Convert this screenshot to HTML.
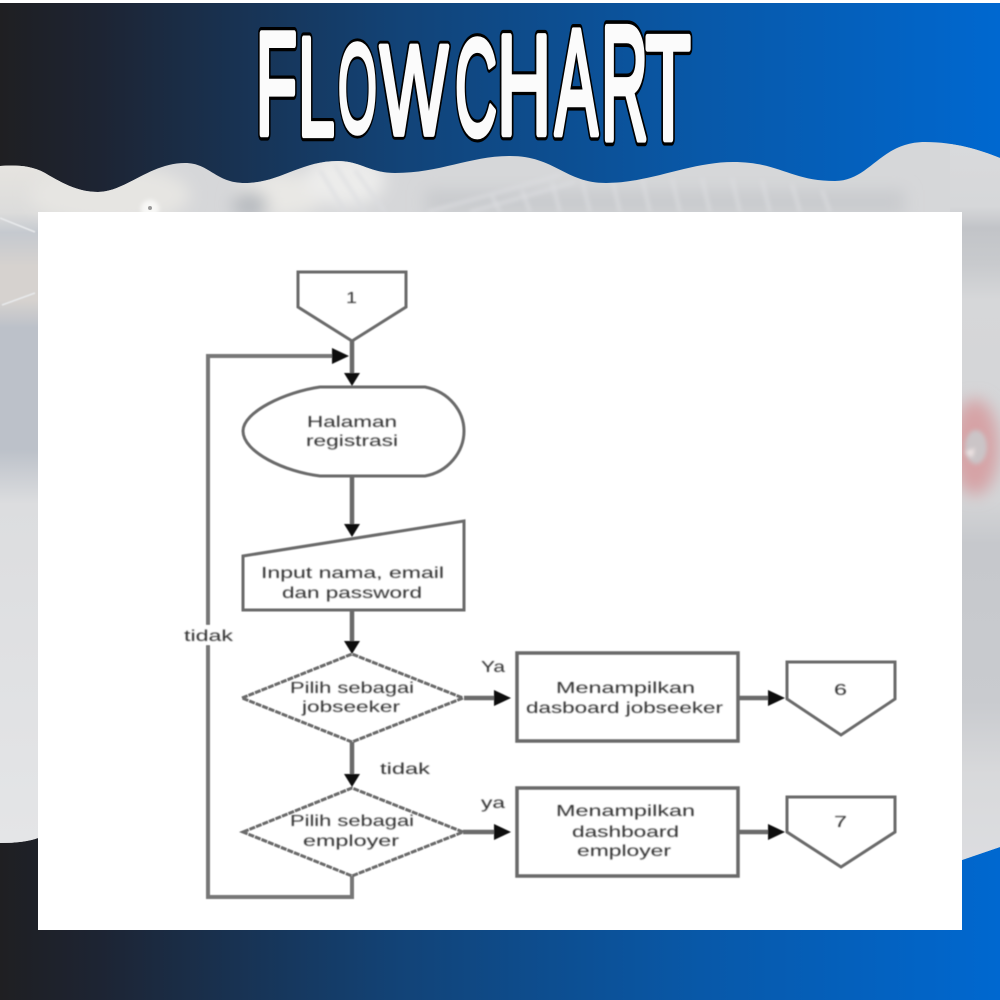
<!DOCTYPE html>
<html><head><meta charset="utf-8"><style>
html,body{margin:0;padding:0;background:#fff}
svg{display:block}
.t{font-family:"Liberation Sans",sans-serif;font-size:16px;fill:#2e2e2e;text-anchor:start}
.ttl{font-family:"Liberation Sans",sans-serif;font-size:100px}
</style></head><body>
<svg width="1000" height="1000" viewBox="0 0 1000 1000" xmlns="http://www.w3.org/2000/svg">
<defs>
<linearGradient id="g" x1="0" x2="1" y1="0" y2="0"><stop offset="0" stop-color="#1f1f22"/><stop offset=".1" stop-color="#1d2433"/><stop offset=".4" stop-color="#124377"/><stop offset=".7" stop-color="#0858a8"/><stop offset="1" stop-color="#0068d0"/></linearGradient>
<linearGradient id="ls" gradientUnits="userSpaceOnUse" x1="0" x2="0" y1="165" y2="843">
<stop offset="0" stop-color="#e6e4e0"/><stop offset=".07" stop-color="#dcdcdb"/><stop offset=".1" stop-color="#c5c9cf"/><stop offset=".15" stop-color="#d6d2cf"/><stop offset=".2" stop-color="#d6d2cf"/><stop offset=".24" stop-color="#bcc1c9"/><stop offset=".42" stop-color="#bcc1c9"/><stop offset=".5" stop-color="#dcdddf"/><stop offset="1" stop-color="#e4e5e7"/>
</linearGradient>
<linearGradient id="rs" gradientUnits="userSpaceOnUse" x1="0" x2="0" y1="142" y2="860">
<stop offset="0" stop-color="#d9dadc"/><stop offset=".09" stop-color="#d6d7d9"/><stop offset=".12" stop-color="#c2c4c8"/><stop offset=".17" stop-color="#c8cacd"/><stop offset=".22" stop-color="#d6d7d9"/><stop offset=".5" stop-color="#d3d4d6"/><stop offset=".56" stop-color="#c6c8cc"/><stop offset=".78" stop-color="#c9cbcf"/><stop offset=".88" stop-color="#d8d9db"/><stop offset="1" stop-color="#dcdde0"/>
</linearGradient>
<clipPath id="band"><path d="M0 166 C15 165 30 165 45 173 C65 185 80 192 98 192 C125 192 150 163 185 163 C210 163 215 183 245 183 C280 183 300 161 338 161 C360 161 370 173 395 173 C440 173 470 156 510 156 C555 156 565 183 606 183 C650 183 690 162 733 162 C780 162 790 181 835 181 C870 181 880 142 925 142 C955 142 980 150 1000 158 L1000 847 L962 860 L962 930 L38 930 L38 838 Q25 843 0 843 Z"/></clipPath>
<filter id="b1" x="-5%" y="-30%" width="110%" height="160%"><feGaussianBlur stdDeviation="0.9"/></filter>
<filter id="b2" x="-5%" y="-5%" width="110%" height="110%"><feGaussianBlur stdDeviation="0.6"/></filter>
<filter id="b8" x="-60%" y="-60%" width="220%" height="220%"><feGaussianBlur stdDeviation="8"/></filter>
<filter id="b3" x="-60%" y="-60%" width="220%" height="220%"><feGaussianBlur stdDeviation="2"/></filter>
<g id="h"><path d="M0 0 L16 0 L8 13 Z" fill="#111"/></g>
<g id="r"><path d="M0 -8 L17 0 L0 8 Z" fill="#111"/></g>
</defs>
<rect width="1000" height="1000" fill="url(#g)"/>
<rect width="1000" height="3" fill="#fff"/>

<!-- photo band -->
<g clip-path="url(#band)">
<rect x="0" y="140" width="1000" height="800" fill="#d6d7d9"/>
<rect x="0" y="160" width="60" height="690" fill="url(#ls)"/>
<rect x="950" y="140" width="50" height="720" fill="url(#rs)"/>
<g filter="url(#b8)">
<ellipse cx="110" cy="195" rx="80" ry="30" fill="#e6e5e2"/>
<ellipse cx="280" cy="195" rx="45" ry="22" fill="#e9e8e5"/>
<ellipse cx="345" cy="180" rx="40" ry="26" fill="#ececeb"/>
<ellipse cx="250" cy="205" rx="18" ry="14" fill="#b8bbc0"/>
<ellipse cx="975" cy="447" rx="24" ry="48" fill="#d6a3a6"/>
</g>
<rect x="425" y="190" width="480" height="25" fill="#c9cbce" filter="url(#b8)"/>
<ellipse cx="976" cy="447" rx="11" ry="17" fill="#cbc5c7" filter="url(#b3)"/>
<path d="M965 452 L975 448 L972 458 Z" fill="#f2e6e6" filter="url(#b3)"/>
<path d="M0 218 L35 232 M2 305 L35 293" stroke="#e8eaec" stroke-width="1.5" fill="none" filter="url(#b2)"/>
<g stroke="#dcdde0" stroke-width="2.5" fill="none" filter="url(#b3)">
<path d="M428 212 L560 175 M470 212 L575 182 M320 170 L345 212 M335 165 L365 212 M355 170 L385 212"/>
<path d="M500 212 L492 196 M530 212 L522 190 M560 212 L552 182 M590 212 L582 180 M620 212 L612 178 M650 212 L642 178 M680 212 L672 178 M710 212 L702 178 M740 212 L732 178 M770 212 L762 180 M800 212 L792 184 M830 212 L822 190"/>
</g>
<circle cx="150" cy="209" r="9" fill="#f8f8f6" filter="url(#b3)"/>
<circle cx="150" cy="208" r="2" fill="#999"/>
</g>

<!-- white card -->
<rect x="38" y="212" width="924" height="718" fill="#fff"/>

<!-- title -->
<g class="ttl">
<g stroke="#000" stroke-width="9" stroke-linejoin="round" fill="#000">
<text transform="translate(255.6,134) scale(.68,1.46)">F</text>
<text transform="translate(298,135) scale(.66,1.4)">L</text>
<text transform="translate(338,132) scale(.5,1.25)">O</text>
<text transform="translate(380,134) scale(.72,1.27)">W</text>
<text transform="translate(455,135) scale(.58,1.37)">C</text>
<text transform="translate(497,134) scale(.75,1.42)">H</text>
<text transform="translate(555,134) scale(.64,1.5)">A</text>
<text transform="translate(601,139) scale(.65,1.62)">R</text>
<text transform="translate(645.5,139) scale(.74,1.48)">T</text>
</g>
<g stroke="#fbfbfb" stroke-width="4.5" stroke-linejoin="round" fill="#fbfbfb">
<text transform="translate(255.6,134) scale(.68,1.46)">F</text>
<text transform="translate(298,135) scale(.66,1.4)">L</text>
<text transform="translate(338,132) scale(.5,1.25)">O</text>
<text transform="translate(380,134) scale(.72,1.27)">W</text>
<text transform="translate(455,135) scale(.58,1.37)">C</text>
<text transform="translate(497,134) scale(.75,1.42)">H</text>
<text transform="translate(555,134) scale(.64,1.5)">A</text>
<text transform="translate(601,139) scale(.65,1.62)">R</text>
<text transform="translate(645.5,139) scale(.74,1.48)">T</text>
</g>
</g>

<!-- flowchart -->
<g filter="url(#b2)">
<g fill="none" stroke="#6a6a6a" stroke-width="3.5">
<path d="M352 341 V376 M352 476 V524 M352 610 V642 M352 742 V775 M464 698 H495 M738 698 H769 M463 832 H495 M738 832 H769" stroke-width="4.5"/>
<path d="M335 356 H208 V897 H352 V876" stroke-width="4" stroke="#777"/>
<path d="M298 272 H406 V307 L352 341 L298 307 Z" stroke-width="3"/>
<path d="M320 387 H425 C450 392 464 412 464 431 C464 452 448 472 425 476 H320 C285 472 243 452 243 431 C243 412 285 392 320 387 Z" stroke-width="3"/>
<path d="M243 556 L464 521 V610 H243 Z" stroke-width="3"/>
<path d="M242 698 L352 654 L463 698 L352 742 Z" stroke-width="3" stroke-dasharray="6 1"/>
<path d="M243 832 L352 788 L463 832 L352 876 Z" stroke-width="3" stroke-dasharray="6 1"/>
<rect x="517" y="653" width="221" height="88" stroke-width="3.5"/>
<rect x="517" y="788" width="221" height="88" stroke-width="3.5"/>
<path d="M787 662 H895 V699 L841 735 L787 699 Z" stroke-width="3"/>
<path d="M787 797 H895 V832 L841 867 L787 832 Z" stroke-width="3"/>
</g>
<use href="#h" x="344" y="373"/>
<use href="#h" x="344" y="524"/>
<use href="#h" x="344" y="641"/>
<use href="#h" x="344" y="774"/>
<use href="#r" x="332" y="356"/>
<use href="#r" x="494" y="698"/>
<use href="#r" x="768" y="698"/>
<use href="#r" x="494" y="832"/>
<use href="#r" x="768" y="832"/>
<rect x="182" y="625" width="52" height="20" fill="#fff"/>
</g>

<g class="t" filter="url(#b1)">
<text x="346" y="303" textLength="11" lengthAdjust="spacingAndGlyphs">1</text>
<text x="307" y="427" textLength="90" lengthAdjust="spacingAndGlyphs">Halaman</text>
<text x="306" y="446" textLength="92" lengthAdjust="spacingAndGlyphs">registrasi</text>
<text x="261" y="578" textLength="183" lengthAdjust="spacingAndGlyphs">Input nama, email</text>
<text x="282" y="598" textLength="140" lengthAdjust="spacingAndGlyphs">dan password</text>
<text x="184" y="641" textLength="49" lengthAdjust="spacingAndGlyphs">tidak</text>
<text x="290" y="693" textLength="124" lengthAdjust="spacingAndGlyphs">Pilih sebagai</text>
<text x="302" y="712" textLength="98" lengthAdjust="spacingAndGlyphs">jobseeker</text>
<text x="481" y="672" textLength="24" lengthAdjust="spacingAndGlyphs">Ya</text>
<text x="556" y="693" textLength="139" lengthAdjust="spacingAndGlyphs">Menampilkan</text>
<text x="526" y="713" textLength="197" lengthAdjust="spacingAndGlyphs">dasboard jobseeker</text>
<text x="834" y="695" textLength="13" lengthAdjust="spacingAndGlyphs">6</text>
<text x="380" y="774" textLength="50" lengthAdjust="spacingAndGlyphs">tidak</text>
<text x="481" y="808" textLength="24" lengthAdjust="spacingAndGlyphs">ya</text>
<text x="290" y="826" textLength="124" lengthAdjust="spacingAndGlyphs">Pilih sebagai</text>
<text x="303" y="846" textLength="96" lengthAdjust="spacingAndGlyphs">employer</text>
<text x="556" y="816" textLength="139" lengthAdjust="spacingAndGlyphs">Menampilkan</text>
<text x="572" y="837" textLength="107" lengthAdjust="spacingAndGlyphs">dashboard</text>
<text x="577" y="856" textLength="94" lengthAdjust="spacingAndGlyphs">employer</text>
<text x="834" y="827" textLength="13" lengthAdjust="spacingAndGlyphs">7</text>
</g>
</svg>
</body></html>
